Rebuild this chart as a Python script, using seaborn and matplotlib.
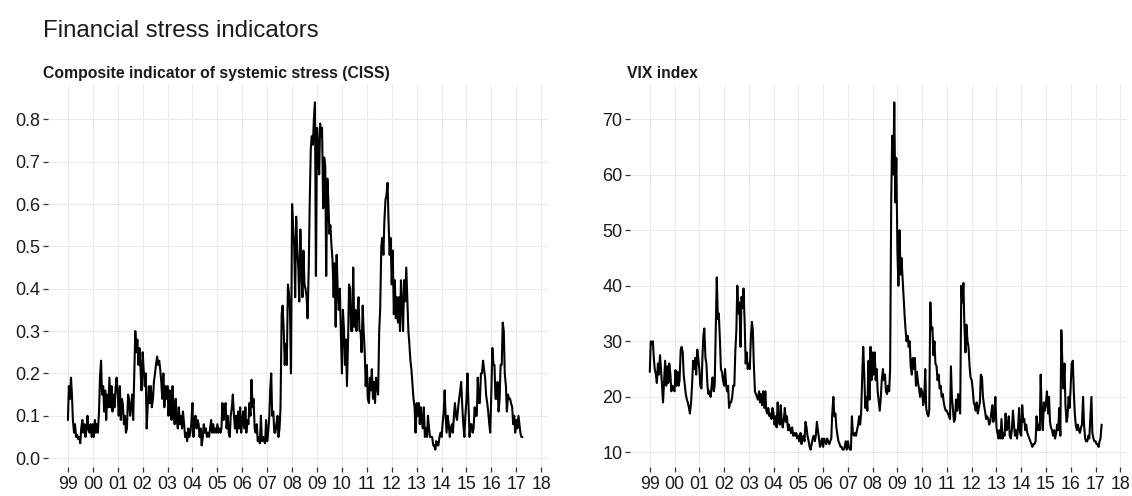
import numpy as np
import pandas as pd
import matplotlib
matplotlib.use("Agg")
import matplotlib.pyplot as plt
import matplotlib.dates as mdates
import seaborn as sns
from matplotlib import font_manager as fm

# Semi-monthly readings, 1999-01 to 2017-04 (24 values per year)
ciss = [
    0.09, 0.17, 0.14, 0.19, 0.15, 0.09, 0.06, 0.08, 0.05, 0.055, 0.045, 0.05, 0.035, 0.07, 0.09, 0.06, 0.08, 0.05, 0.07, 0.10, 0.065, 0.06, 0.08, 0.05,  # 1999
    0.08, 0.05, 0.09, 0.06, 0.08, 0.06, 0.11, 0.19, 0.23, 0.15, 0.17, 0.11, 0.16, 0.09, 0.15, 0.12, 0.19, 0.12, 0.17, 0.11, 0.15, 0.12, 0.17, 0.19,  # 2000
    0.15, 0.10, 0.17, 0.09, 0.14, 0.13, 0.08, 0.10, 0.06, 0.07, 0.15, 0.14, 0.10, 0.12, 0.15, 0.09, 0.20, 0.30, 0.25, 0.28, 0.22, 0.26, 0.21, 0.16,  # 2001
    0.25, 0.21, 0.17, 0.20, 0.07, 0.12, 0.17, 0.13, 0.17, 0.12, 0.14, 0.18, 0.20, 0.22, 0.24, 0.22, 0.23, 0.21, 0.18, 0.14, 0.20, 0.12, 0.17, 0.14,  # 2002
    0.17, 0.10, 0.16, 0.13, 0.09, 0.17, 0.11, 0.08, 0.14, 0.09, 0.07, 0.12, 0.08, 0.10, 0.07, 0.11, 0.08, 0.05, 0.06, 0.04, 0.07, 0.05, 0.06, 0.08,  # 2003
    0.13, 0.05, 0.09, 0.10, 0.07, 0.09, 0.08, 0.05, 0.07, 0.03, 0.05, 0.08, 0.06, 0.07, 0.05, 0.06, 0.05, 0.07, 0.09, 0.06, 0.08, 0.06, 0.07, 0.06,  # 2004
    0.08, 0.06, 0.07, 0.06, 0.07, 0.13, 0.09, 0.12, 0.13, 0.07, 0.10, 0.06, 0.05, 0.10, 0.12, 0.15, 0.10, 0.07, 0.10, 0.06, 0.11, 0.07, 0.12, 0.06,  # 2005
    0.09, 0.11, 0.07, 0.12, 0.06, 0.09, 0.08, 0.13, 0.10, 0.185, 0.12, 0.14, 0.07, 0.06, 0.08, 0.04, 0.05, 0.035, 0.10, 0.04, 0.05, 0.04, 0.035, 0.09,  # 2006
    0.04, 0.06, 0.10, 0.165, 0.20, 0.10, 0.11, 0.06, 0.06, 0.08, 0.10, 0.05, 0.07, 0.12, 0.34, 0.36, 0.30, 0.22, 0.27, 0.22, 0.41, 0.39, 0.35, 0.20,  # 2007
    0.60, 0.55, 0.50, 0.38, 0.57, 0.50, 0.45, 0.37, 0.54, 0.45, 0.38, 0.49, 0.41, 0.40, 0.38, 0.33, 0.45, 0.60, 0.73, 0.76, 0.74, 0.80, 0.84, 0.43,  # 2008
    0.78, 0.74, 0.67, 0.79, 0.76, 0.78, 0.59, 0.71, 0.69, 0.43, 0.66, 0.61, 0.53, 0.55, 0.50, 0.47, 0.38, 0.46, 0.31, 0.48, 0.39, 0.35, 0.40, 0.30,  # 2009
    0.20, 0.35, 0.30, 0.22, 0.28, 0.17, 0.28, 0.41, 0.40, 0.30, 0.30, 0.45, 0.31, 0.35, 0.30, 0.34, 0.38, 0.30, 0.30, 0.25, 0.36, 0.30, 0.25, 0.17,  # 2010
    0.22, 0.14, 0.13, 0.19, 0.16, 0.21, 0.14, 0.18, 0.13, 0.19, 0.17, 0.15, 0.30, 0.35, 0.50, 0.52, 0.48, 0.56, 0.61, 0.62, 0.65, 0.56, 0.48, 0.52,  # 2011
    0.41, 0.49, 0.34, 0.42, 0.33, 0.38, 0.32, 0.38, 0.30, 0.42, 0.36, 0.30, 0.42, 0.37, 0.45, 0.38, 0.30, 0.27, 0.23, 0.21, 0.17, 0.14, 0.12, 0.06,  # 2012
    0.13, 0.10, 0.13, 0.08, 0.12, 0.09, 0.07, 0.12, 0.05, 0.07, 0.05, 0.10, 0.07, 0.05, 0.05, 0.05, 0.03, 0.03, 0.02, 0.04, 0.03, 0.03, 0.05, 0.06,  # 2013
    0.05, 0.08, 0.11, 0.16, 0.10, 0.06, 0.10, 0.08, 0.05, 0.07, 0.08, 0.06, 0.10, 0.13, 0.10, 0.09, 0.12, 0.14, 0.16, 0.18, 0.12, 0.08, 0.05, 0.10,  # 2014
    0.14, 0.20, 0.12, 0.05, 0.08, 0.08, 0.06, 0.07, 0.12, 0.10, 0.10, 0.19, 0.13, 0.13, 0.20, 0.20, 0.23, 0.21, 0.19, 0.15, 0.13, 0.11, 0.08, 0.06,  # 2015
    0.16, 0.26, 0.22, 0.22, 0.14, 0.14, 0.18, 0.11, 0.14, 0.22, 0.22, 0.32, 0.30, 0.20, 0.17, 0.11, 0.15, 0.14, 0.14, 0.13, 0.12, 0.08, 0.10, 0.06,  # 2016
    0.09, 0.07, 0.10, 0.08, 0.06, 0.05, 0.05,  # 2017
]

vix = [
    24.5, 30.0, 29.5, 30.0, 27.0, 25.0, 24.0, 22.5, 26.0, 24.0, 27.5, 25.0, 22.0, 19.0, 23.0, 26.5, 22.0, 25.5, 22.5, 26.0, 24.0, 21.0, 22.0, 21.5,  # 1999
    21.0, 24.8, 22.0, 24.5, 22.0, 23.0, 28.5, 29.0, 28.0, 24.0, 22.0, 20.5, 19.5, 19.0, 18.0, 17.0, 19.0, 22.0, 26.5, 25.0, 27.0, 24.0, 28.5, 27.0,  # 2000
    25.0, 22.0, 21.5, 27.0, 31.0, 32.3, 27.0, 26.0, 22.0, 20.5, 21.0, 20.0, 22.0, 23.5, 21.0, 22.0, 33.0, 41.5, 34.0, 35.0, 30.0, 25.0, 24.5, 23.0,  # 2001
    22.0, 25.0, 22.0, 21.0, 22.0, 18.0, 19.0, 19.0, 20.0, 22.0, 22.0, 28.0, 32.0, 40.0, 35.0, 37.0, 29.0, 38.0, 36.0, 39.5, 33.0, 26.0, 28.0, 25.0,  # 2002
    26.0, 25.0, 31.0, 33.5, 32.0, 26.0, 21.0, 20.5, 20.0, 19.5, 21.0, 19.0, 20.5, 18.5, 21.0, 18.0, 21.0, 17.5, 17.0, 18.0, 16.5, 17.0, 16.0, 18.0,  # 2003
    17.0, 15.0, 16.5, 14.5, 19.0, 16.0, 15.0, 18.5, 15.5, 14.5, 16.0, 18.0, 15.5, 16.5, 14.0, 15.0, 14.0, 13.5, 14.5, 13.0, 13.5, 13.0, 13.5, 12.5,  # 2004
    13.0, 12.0, 13.5, 11.5, 12.5, 13.0, 12.0, 15.5, 14.5, 13.0, 12.0, 11.0, 10.5, 11.5, 12.5, 13.0, 12.0, 13.0, 15.5, 14.0, 12.5, 11.0, 11.5, 12.5,  # 2005
    11.0, 12.5, 12.0, 11.5, 12.5, 12.0, 11.5, 12.0, 12.5, 17.0, 20.0, 16.5, 17.0, 14.5, 13.0, 12.0, 11.5, 11.0, 11.0, 10.5, 10.5, 11.0, 12.0, 10.5,  # 2006
    12.0, 11.0, 10.5, 10.5, 16.5, 13.5, 13.0, 13.5, 13.0, 14.0, 15.0, 16.5, 15.0, 17.0, 24.0, 29.0, 23.5, 18.0, 20.0, 17.5, 26.5, 19.5, 29.0, 23.0,  # 2007
    28.0, 24.0, 28.0, 23.0, 25.0, 21.0, 19.0, 17.5, 20.0, 23.0, 25.0, 23.0, 24.0, 21.0, 20.5, 22.0, 21.0, 25.0, 55.0, 67.0, 60.0, 73.0, 55.0, 63.0,  # 2008
    46.0, 40.0, 50.0, 42.0, 45.0, 42.0, 38.0, 35.0, 32.0, 30.0, 31.0, 29.0, 30.0, 25.5, 24.0, 27.0, 25.0, 27.0, 22.0, 24.5, 22.5, 21.5, 20.0, 21.5,  # 2009
    21.0, 18.5, 19.5, 25.0, 18.0, 17.0, 16.5, 17.5, 37.0, 32.0, 32.5, 27.5, 30.0, 26.0, 25.5, 23.0, 24.0, 21.5, 22.0, 20.0, 20.5, 19.0, 18.0, 17.5,  # 2010
    17.5, 17.0, 16.5, 16.0, 25.5, 20.0, 17.5, 15.5, 16.0, 19.5, 17.5, 20.5, 18.5, 17.0, 40.0, 37.0, 40.5, 33.0, 28.0, 33.0, 30.0, 29.0, 25.5, 23.5,  # 2011
    23.0, 21.5, 19.0, 18.5, 17.5, 19.0, 17.0, 18.0, 19.0, 24.0, 23.5, 20.0, 18.5, 17.5, 16.0, 16.5, 16.0, 15.0, 15.5, 17.0, 18.5, 15.5, 16.5, 20.0,  # 2012
    14.5, 13.5, 12.5, 14.0, 12.5, 16.0, 12.5, 13.5, 13.0, 17.0, 14.0, 14.5, 16.5, 13.0, 12.5, 14.0, 17.5, 15.0, 13.0, 14.0, 12.5, 14.5, 18.0, 13.5,  # 2013
    13.0, 18.5, 15.5, 16.0, 14.0, 15.0, 13.5, 13.0, 12.5, 12.0, 11.5, 11.0, 11.5, 11.5, 12.0, 16.5, 14.0, 15.0, 14.0, 24.0, 16.0, 14.0, 19.0, 17.5,  # 2014
    19.0, 21.0, 17.0, 20.0, 15.5, 14.5, 14.0, 13.0, 14.0, 12.5, 13.5, 15.0, 14.0, 18.0, 13.0, 32.0, 25.5, 21.5, 26.0, 18.5, 15.5, 16.5, 20.0, 18.0,  # 2015
    22.0, 26.0, 26.5, 21.0, 17.0, 15.0, 14.0, 15.0, 14.0, 13.5, 14.5, 15.0, 20.0, 15.0, 12.5, 12.0, 12.0, 13.0, 12.5, 16.0, 20.0, 13.5, 12.5, 12.0,  # 2016
    12.0, 11.5, 11.5, 11.0, 12.0, 12.5, 15.0,  # 2017
]

panel_titles = ["Composite indicator of systemic stress (CISS)", "VIX index"]
main_title = "Financial stress indicators"

dates = pd.date_range("1999-01-01", periods=len(ciss), freq="SMS")
df = pd.DataFrame({"date": dates, "ciss": ciss, "vix": vix})


def has_font(name):
    try:
        fm.findfont(fm.FontProperties(family=name), fallback_to_default=False)
        return True
    except ValueError:
        return False


narrow = has_font("Liberation Sans Narrow")

sns.set_theme(style="whitegrid")
plt.rcParams["font.family"] = ["Liberation Sans", "DejaVu Sans"]

W, H = 1132, 496
fig = plt.figure(figsize=(W / 100, H / 100), dpi=100)
ax1 = fig.add_axes([48 / W, (H - 467) / H, 500 / W, 382 / H])
ax2 = fig.add_axes([630 / W, (H - 467) / H, 497 / W, 382 / H])

yticks = [np.arange(0, 0.81, 0.1), np.arange(10, 71, 10)]
yfmt = ["{:.1f}", "{:.0f}"]

for ax, col, yt, fmt in zip([ax1, ax2], ["ciss", "vix"], yticks, yfmt):
    sns.lineplot(data=df, x="date", y=col, ax=ax, color="black", linewidth=1.5)
    lo, hi = df[col].min(), df[col].max()
    pad = 0.05 * (hi - lo)
    ax.set_ylim(lo - pad, hi + pad)
    ax.set_xlim(pd.Timestamp("1998-03-15"), pd.Timestamp("2018-04-10"))
    ax.set_yticks(yt)
    ax.set_yticklabels([fmt.format(v) for v in yt])
    ax.xaxis.set_major_locator(mdates.YearLocator(1))
    ax.xaxis.set_major_formatter(mdates.DateFormatter("%y"))
    ax.set_xlabel("")
    ax.set_ylabel("")
    ax.grid(True, color="#ebebeb", linewidth=0.8)
    for s in ax.spines.values():
        s.set_visible(False)
    ax.tick_params(axis="both", which="major", length=3.5, width=0.9,
                   color="#333333", direction="out", bottom=True, left=True)
    ax.tick_params(axis="y", labelsize=13, labelcolor="#1a1a1a", pad=2)
    if narrow:
        ax.tick_params(axis="x", labelsize=14, labelcolor="#1a1a1a", pad=3)
        for lab in ax.get_xticklabels():
            lab.set_family(["Liberation Sans Narrow", "Liberation Sans"])
    else:
        ax.tick_params(axis="x", labelsize=12.8, labelcolor="#1a1a1a", pad=3)

fig.text(43 / W, 1 - 37 / H, main_title, fontsize=17.3, color="#1a1a1a",
         va="baseline", ha="left")

if narrow:
    sub_kw = dict(fontsize=13.8, family=["Liberation Sans Narrow", "Liberation Sans"])
else:
    sub_kw = dict(fontsize=11.3)
fig.text(43 / W, 1 - 78 / H, panel_titles[0], fontweight="bold", color="#1a1a1a",
         va="baseline", ha="left", **sub_kw)
fig.text(627 / W, 1 - 78 / H, panel_titles[1], fontweight="bold", color="#1a1a1a",
         va="baseline", ha="left", **sub_kw)

fig.savefig("out.png", dpi=100, facecolor="white")
